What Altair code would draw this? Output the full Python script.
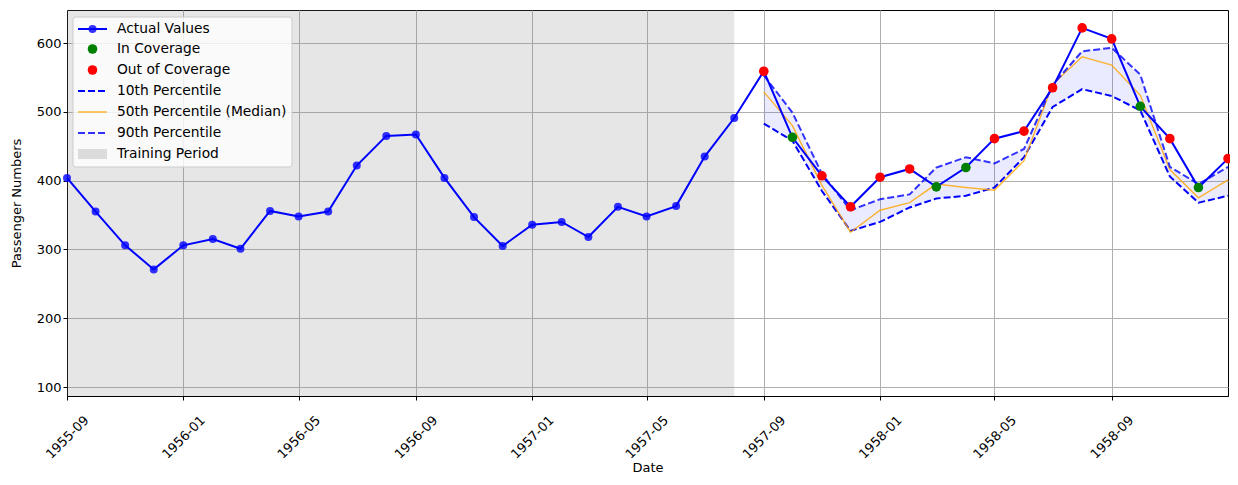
import altair as alt
import pandas as pd

# ---------------- data ----------------
train_dates = pd.date_range("1955-09-01", periods=24, freq="MS")
train_values = [404, 355, 306, 271, 306, 315, 301, 356, 348, 355, 422, 465,
                467, 404, 347, 305, 336, 340, 318, 362, 348, 363, 435, 491]

test_dates = pd.date_range("1957-09-01", periods=17, freq="MS")
test_values = [559, 463, 407, 362, 405, 417, 391, 419, 461, 472, 535, 622,
               606, 508, 461, 390, 432]
p10 = [483, 458, 385, 327, 340, 361, 374, 378, 390, 434, 507, 533,
       523, 502, 406, 368, 378]
p50 = [529, 480, 393, 325, 357, 368, 395, 390, 386, 429, 540, 580,
       568, 524, 416, 375, 401]
p90 = [553, 499, 410, 357, 373, 380, 419, 434, 425, 446, 539, 588,
       593, 554, 420, 395, 420]
in_coverage = [False, True, False, False, False, False, True, True, False,
               False, False, False, False, True, False, True, False]

tick_labels = ["1955-09", "1956-01", "1956-05", "1956-09", "1957-01",
               "1957-05", "1957-09", "1958-01", "1958-05", "1958-09"]
y_ticks = [100, 200, 300, 400, 500, 600]

legend_labels = ["Actual Values", "In Coverage", "Out of Coverage",
                 "10th Percentile", "50th Percentile (Median)",
                 "90th Percentile", "Training Period"]

# ---------------- tables ----------------
actual = pd.DataFrame({
    "date": list(train_dates) + list(test_dates),
    "value": train_values + test_values,
})
test = pd.DataFrame({
    "date": test_dates, "value": test_values,
    "p10": p10, "p50": p50, "p90": p90,
    "cov": ["In Coverage" if c else "Out of Coverage" for c in in_coverage],
})
span = pd.DataFrame({"start": [train_dates[0]], "end": [train_dates[-1]]})

W, H = 1161, 386
FONT = "DejaVu Sans"

x_scale = alt.Scale(domain=[pd.Timestamp("1955-09-01").isoformat(),
                            pd.Timestamp("1959-01-01").isoformat()], nice=False)
y_scale = alt.Scale(domain=[87, 648], nice=False, zero=False)

x_axis = alt.Axis(values=[pd.Timestamp(t + "-01").isoformat() for t in tick_labels],
                  format="%Y-%m", labelAngle=-45, labelAlign="center",
                  labelBaseline="middle", labelPadding=37, title="Date",
                  titlePadding=0, grid=True)
y_axis = alt.Axis(values=y_ticks, title="Passenger Numbers", grid=True,
                  titlePadding=13)

X = alt.X("date:T", scale=x_scale, axis=x_axis)
Y = alt.Y("value:Q", scale=y_scale, axis=y_axis)

shade = alt.Chart(span).mark_rect(color="gray", opacity=0.2).encode(
    x=alt.X("start:T", scale=x_scale, axis=x_axis), x2="end:T",
    y=alt.value(0), y2=alt.value(H))

band = alt.Chart(test).mark_area(color="blue", opacity=0.08).encode(
    x=X, y=alt.Y("p10:Q", scale=y_scale, axis=y_axis), y2="p90:Q")

l10 = alt.Chart(test).mark_line(color="blue", strokeWidth=2,
                                strokeDash=[7, 3]).encode(
    x=X, y=alt.Y("p10:Q", scale=y_scale, axis=y_axis))
l50 = alt.Chart(test).mark_line(color="orange", strokeWidth=1.5,
                                opacity=0.8).encode(
    x=X, y=alt.Y("p50:Q", scale=y_scale, axis=y_axis))
l90 = alt.Chart(test).mark_line(color="blue", strokeWidth=2, opacity=0.8,
                                strokeDash=[7, 3]).encode(
    x=X, y=alt.Y("p90:Q", scale=y_scale, axis=y_axis))

act_line = alt.Chart(actual).mark_line(color="blue", strokeWidth=2).encode(x=X, y=Y)
act_pts = alt.Chart(actual).mark_circle(color="blue", opacity=0.8,
                                        size=64).encode(x=X, y=Y)

cov_pts = alt.Chart(test).mark_circle(size=92, opacity=1).encode(
    x=X, y=Y,
    color=alt.Color("cov:N", scale=alt.Scale(
        domain=["In Coverage", "Out of Coverage"], range=["green", "red"]),
        legend=None))

# ---------------- manual legend (matplotlib style) ----------------
one = pd.DataFrame({"k": [0]})
lg = [alt.Chart(one).mark_rect(fill="white", fillOpacity=0.8, stroke="#cccccc",
                               cornerRadius=3).encode(
    x=alt.value(6), x2=alt.value(225), y=alt.value(7), y2=alt.value(157))]
rows = [19, 39, 60, 81, 102, 123, 144]
lx0, lx1, tx = 11, 40, 50
# Actual values: line + marker
lg.append(alt.Chart(one).mark_rule(color="blue", strokeWidth=2).encode(
    x=alt.value(lx0), x2=alt.value(lx1), y=alt.value(rows[0])))
lg.append(alt.Chart(one).mark_circle(color="blue", opacity=0.8, size=64).encode(
    x=alt.value((lx0 + lx1) / 2), y=alt.value(rows[0])))
lg.append(alt.Chart(one).mark_circle(color="green", opacity=1, size=92).encode(
    x=alt.value((lx0 + lx1) / 2), y=alt.value(rows[1])))
lg.append(alt.Chart(one).mark_circle(color="red", opacity=1, size=92).encode(
    x=alt.value((lx0 + lx1) / 2), y=alt.value(rows[2])))
lg.append(alt.Chart(one).mark_rule(color="blue", strokeWidth=2,
                                   strokeDash=[7, 3]).encode(
    x=alt.value(lx0), x2=alt.value(lx1), y=alt.value(rows[3])))
lg.append(alt.Chart(one).mark_rule(color="orange", strokeWidth=1.5,
                                   opacity=0.8).encode(
    x=alt.value(lx0), x2=alt.value(lx1), y=alt.value(rows[4])))
lg.append(alt.Chart(one).mark_rule(color="blue", strokeWidth=2, opacity=0.8,
                                   strokeDash=[7, 3]).encode(
    x=alt.value(lx0), x2=alt.value(lx1), y=alt.value(rows[5])))
lg.append(alt.Chart(one).mark_rect(color="gray", opacity=0.25).encode(
    x=alt.value(lx0), x2=alt.value(lx1), y=alt.value(rows[6] - 5),
    y2=alt.value(rows[6] + 5)))
for lab, ry in zip(legend_labels, rows):
    lg.append(alt.Chart(one).mark_text(text=lab, align="left", baseline="middle",
                                       font=FONT, fontSize=13.8, color="black").encode(
        x=alt.value(tx), y=alt.value(ry)))

chart = alt.layer(shade, band, l10, l50, l90, act_line, act_pts, cov_pts,
                  *lg).properties(
    width=W, height=H,
    autosize=alt.AutoSizeParams(type="none"),
    padding={"left": 59, "top": 2, "right": 2, "bottom": 81},
).configure_axis(
    labelFont=FONT, titleFont=FONT, labelFontSize=13, titleFontSize=13,
    labelColor="black", titleColor="black", titleFontWeight="normal",
    domainColor="black", tickColor="black", tickSize=4,
    gridColor="#b0b0b0", gridWidth=1,
).configure_view(stroke="black", strokeWidth=1)

chart.save("out.html", embed_options={"renderer": "svg", "actions": False})
